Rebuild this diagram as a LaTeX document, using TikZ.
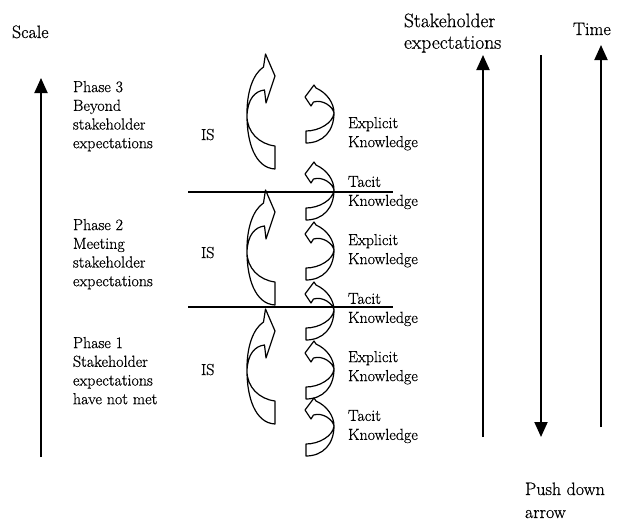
\documentclass[tikz,border=0pt]{standalone}
\usepackage{fontspec}
\newfontface\heavy{Latin Modern Roman}[FakeBold=0.6]
\usetikzlibrary{arrows.meta}
\begin{document}
\begin{tikzpicture}[x=1pt,y=-1pt,
  lbl/.style={inner sep=0pt,outer sep=0pt,align=left,font=\heavy\fontsize{16}{18.7}\selectfont},
  klbl/.style={inner sep=0pt,outer sep=0pt,align=left,font=\heavy\fontsize{16}{19}\selectfont},
  biglbl/.style={inner sep=0pt,outer sep=0pt,align=left,font=\heavy\fontsize{18}{23}\selectfont},
  longarrow/.style={line width=1.9pt,-{Triangle[length=15pt,width=13pt]}},
  hline/.style={line width=1.9pt},
  curvearrow/.style={line width=1.2pt,line join=round},
  bigarrow/.pic={\draw[curvearrow] (18.5,0) -- (28,22) -- (19,49) -- (17.5,36)
      .. controls (8,37) and (0.5,45) .. (0,62)
      .. controls (0,78) and (12,90) .. (28,92) -- (28,115)
      .. controls (8,114) and (0,88) .. (0,62)
      .. controls (-0.5,38) and (6,20) .. (16.5,13) -- cycle;},
  smallarrow/.pic={\draw[curvearrow] (0,12) -- (9,0) -- (11,3)
      .. controls (22,8) and (29,18) .. (29,28)
      .. controls (29,46) and (18,58) .. (1,58) -- (1,46)
      .. controls (14,46) and (28,38) .. (29,28)
      .. controls (28,22) and (18,14) .. (8.5,17) -- (6,21) -- cycle;}
]
\useasboundingbox (0,0) rectangle (618,522);

% labels
\node[biglbl,anchor=base west] (scale) at (12,38) {Scale};
\node[inner sep=0pt,outer sep=0pt,align=left,font=\heavy\fontsize{19.5}{21.6}\selectfont,anchor=north west] (stake) at (404,13.5) {Stakeholder\\expectations};
\node[biglbl,anchor=base west] (time) at (573,35) {Time};
\node[biglbl,anchor=north west] (push) at (525,482.5) {Push down\\arrow};

\node[lbl,anchor=north west] (ph3) at (73,81) {Phase 3\\Beyond\\stakeholder\\expectations};
\node[lbl,anchor=north west] (ph2) at (73,219) {Phase 2\\Meeting\\stakeholder\\expectations};
\node[lbl,anchor=north west] (ph1) at (73,337) {Phase 1\\Stakeholder\\expectations\\have not met};

\node[lbl,anchor=base west] (is3) at (201,140) {IS};
\node[lbl,anchor=base west] (is2) at (201,258) {IS};
\node[lbl,anchor=base west] (is1) at (201,375) {IS};

\node[klbl,anchor=north west] (ek3) at (348,117) {Explicit\\Knowledge};
\node[klbl,anchor=north west] (tk3) at (348,176) {Tacit\\Knowledge};
\node[klbl,anchor=north west] (ek2) at (348,234) {Explicit\\Knowledge};
\node[klbl,anchor=north west] (tk2) at (348,293) {Tacit\\Knowledge};
\node[klbl,anchor=north west] (ek1) at (348,351) {Explicit\\Knowledge};
\node[klbl,anchor=north west] (tk1) at (348,410) {Tacit\\Knowledge};

% curved arrows
\pic (isarrow3) at (247,54) {bigarrow};
\pic (isarrow2) at (247,190) {bigarrow};
\pic (isarrow1) at (247,309) {bigarrow};

\pic (karrow6) at (305,85) {smallarrow};
\pic (karrow5) at (305,162) {smallarrow};
\pic (karrow4) at (305,222) {smallarrow};
\pic (karrow3) at (305,282) {smallarrow};
\pic (karrow2) at (305,341) {smallarrow};
\pic (karrow1) at (305,398) {smallarrow};

% phase separating lines
\coordinate (l1a) at (188,192); \coordinate (l1b) at (393,192);
\coordinate (l2a) at (188,307); \coordinate (l2b) at (393,307);
\draw[hline] (l1a) -- (l1b);
\draw[hline] (l2a) -- (l2b);

% long arrows
\coordinate (scaleB) at (41,457); \coordinate (scaleT) at (41,78);
\draw[longarrow] (scaleB) -- (scaleT);
\coordinate (stakeB) at (483,437); \coordinate (stakeT) at (483,55);
\draw[longarrow] (stakeB) -- (stakeT);
\coordinate (pushT) at (541,55); \coordinate (pushB) at (541,437);
\draw[longarrow] (pushT) -- (pushB);
\coordinate (timeB) at (601,427); \coordinate (timeT) at (601,45);
\draw[longarrow] (timeB) -- (timeT);
\end{tikzpicture}
\end{document}
